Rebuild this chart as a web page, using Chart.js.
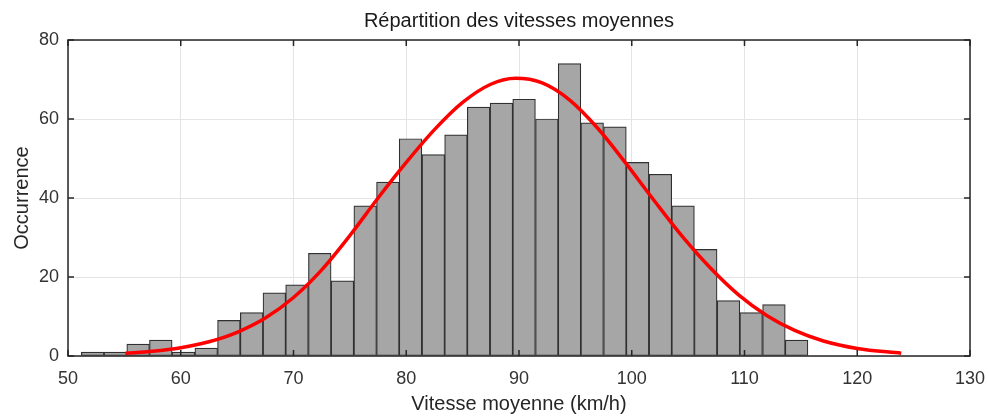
<!DOCTYPE html>
<html>
<head>
    <meta charset="utf-8">
    <script src="https://cdn.jsdelivr.net/npm/chart.js@4.4.1/dist/chart.umd.min.js"></script>
    <title>Répartition des vitesses moyennes</title>
    <style>
        html, body { margin: 0; padding: 0; background: #fff; }
        #wrap { width: 989px; height: 416px; }
    </style>
</head>
<body>
<div id="wrap">
    <canvas id="myChart" width="989" height="416"></canvas>
</div>

<script>
    // centres des classes (km/h), largeur ~2 km/h
    var binCentres = [52.19, 54.20, 56.22, 58.23, 60.24, 62.26, 64.27, 66.29,
                      68.30, 70.31, 72.33, 74.34, 76.36, 78.37, 80.38, 82.40,
                      84.41, 86.42, 88.44, 90.45, 92.47, 94.48, 96.49, 98.51,
                      100.52, 102.54, 104.55, 106.56, 108.58, 110.59, 112.61, 114.62];

    // nombre d'occurrences par classe
    var counts = [1, 1, 3, 4, 1, 2, 9, 11,
                  16, 18, 26, 19, 38, 44, 55, 51,
                  56, 63, 64, 65, 60, 74, 59, 58,
                  49, 46, 38, 27, 14, 11, 13, 4];

    // courbe de loi normale ajustée (points relevés)
    var fitX = [55.1, 57.5, 60, 62.5, 65, 67.5, 70, 72.5, 75, 77.5, 80, 82.5, 85, 87.5,
                89.7, 92, 94.5, 97, 99.5, 102, 104.5, 107, 109.5, 112, 114.5, 117, 120, 123.9];
    var fitY = [0.7, 1.2, 2.1, 3.6, 6.0, 9.6, 14.8, 21.8, 30.5, 40.0, 49.0, 57.3, 64.2, 68.8,
                70.3, 69.2, 64.8, 57.6, 48.7, 39.3, 30.2, 22.2, 15.4, 10.2, 6.4, 3.8, 1.9, 0.7];

    var xTicks = [50, 60, 70, 80, 90, 100, 110, 120, 130];
    var yTicks = [0, 20, 40, 60, 80];

    var barData = [];
    for (var i = 0; i < binCentres.length; i++) {
        barData.push({ x: binCentres[i], y: counts[i] });
    }
    var fitData = [];
    for (var j = 0; j < fitX.length; j++) {
        fitData.push({ x: fitX[j], y: fitY[j] });
    }

    var police = "'Liberation Sans', Arial, sans-serif";

    // cadre complet + graduations vers l'intérieur (style MATLAB)
    var cadre = {
        id: 'cadre',
        afterDatasetsDraw: function(chart) {
            var ctx = chart.ctx;
            var a = chart.chartArea;
            var sx = chart.scales.x, sy = chart.scales.y;
            var len = 6;
            ctx.save();
            ctx.strokeStyle = '#262626';
            ctx.lineWidth = 1.5;
            ctx.strokeRect(a.left, a.top, a.right - a.left, a.bottom - a.top);
            ctx.beginPath();
            xTicks.forEach(function(v) {
                var px = sx.getPixelForValue(v);
                ctx.moveTo(px, a.bottom); ctx.lineTo(px, a.bottom - len);
                ctx.moveTo(px, a.top); ctx.lineTo(px, a.top + len);
            });
            yTicks.forEach(function(v) {
                var py = sy.getPixelForValue(v);
                ctx.moveTo(a.left, py); ctx.lineTo(a.left + len, py);
                ctx.moveTo(a.right, py); ctx.lineTo(a.right - len, py);
            });
            ctx.stroke();
            ctx.restore();
        }
    };

    const config = {
        type: 'bar',
        data: {
            datasets: [{
                type: 'line',
                data: fitData,
                borderColor: '#ff0000',
                borderWidth: 3.5,
                pointRadius: 0,
                fill: false,
                cubicInterpolationMode: 'monotone',
                order: 0
            }, {
                type: 'bar',
                data: barData,
                backgroundColor: '#a6a6a6',
                borderColor: '#303030',
                borderWidth: 1.2,
                borderSkipped: false,
                barPercentage: 1,
                categoryPercentage: 1,
                order: 1
            }]
        },
        options: {
            responsive: false,
            animation: false,
            devicePixelRatio: 1,
            layout: { padding: { right: 19, left: 0, top: 0, bottom: 0 } },
            plugins: {
                legend: { display: false },
                tooltip: { enabled: false },
                title: {
                    display: true,
                    fullSize: false,
                    text: 'Répartition des vitesses moyennes',
                    color: '#1a1a1a',
                    font: { family: police, size: 20, weight: 'normal', lineHeight: 1.2 },
                    padding: { top: 9, bottom: 7 }
                }
            },
            scales: {
                x: {
                    type: 'linear',
                    offset: false,
                    min: 50,
                    max: 130,
                    afterBuildTicks: function(scale) {
                        scale.ticks = xTicks.map(function(v) { return { value: v }; });
                    },
                    afterFit: function(scale) {
                        scale.height = 60;
                        scale.paddingLeft = 0;
                        scale.paddingRight = 0;
                    },
                    grid: { color: '#e4e4e4', lineWidth: 1, drawTicks: false, offset: false },
                    border: { display: false },
                    ticks: {
                        color: '#333333',
                        padding: 12,
                        maxRotation: 0,
                        font: { family: police, size: 18 }
                    },
                    title: {
                        display: true,
                        text: 'Vitesse moyenne (km/h)',
                        color: '#262626',
                        font: { family: police, size: 20 },
                        padding: { top: 2, bottom: 0 }
                    }
                },
                y: {
                    min: 0,
                    max: 80,
                    afterBuildTicks: function(scale) {
                        scale.ticks = yTicks.map(function(v) { return { value: v }; });
                    },
                    afterFit: function(scale) {
                        scale.width = 68;
                        scale.paddingTop = 0;
                        scale.paddingBottom = 0;
                    },
                    grid: { color: '#e4e4e4', lineWidth: 1, drawTicks: false },
                    border: { display: false },
                    ticks: {
                        color: '#333333',
                        padding: 9,
                        font: { family: police, size: 18 }
                    },
                    title: {
                        display: true,
                        text: 'Occurrence',
                        color: '#262626',
                        font: { family: police, size: 20 },
                        padding: { top: 10, bottom: 0 }
                    }
                }
            }
        },
        plugins: [cadre]
    };

    var myChart = new Chart(document.getElementById('myChart'), config);
</script>
</body>
</html>
